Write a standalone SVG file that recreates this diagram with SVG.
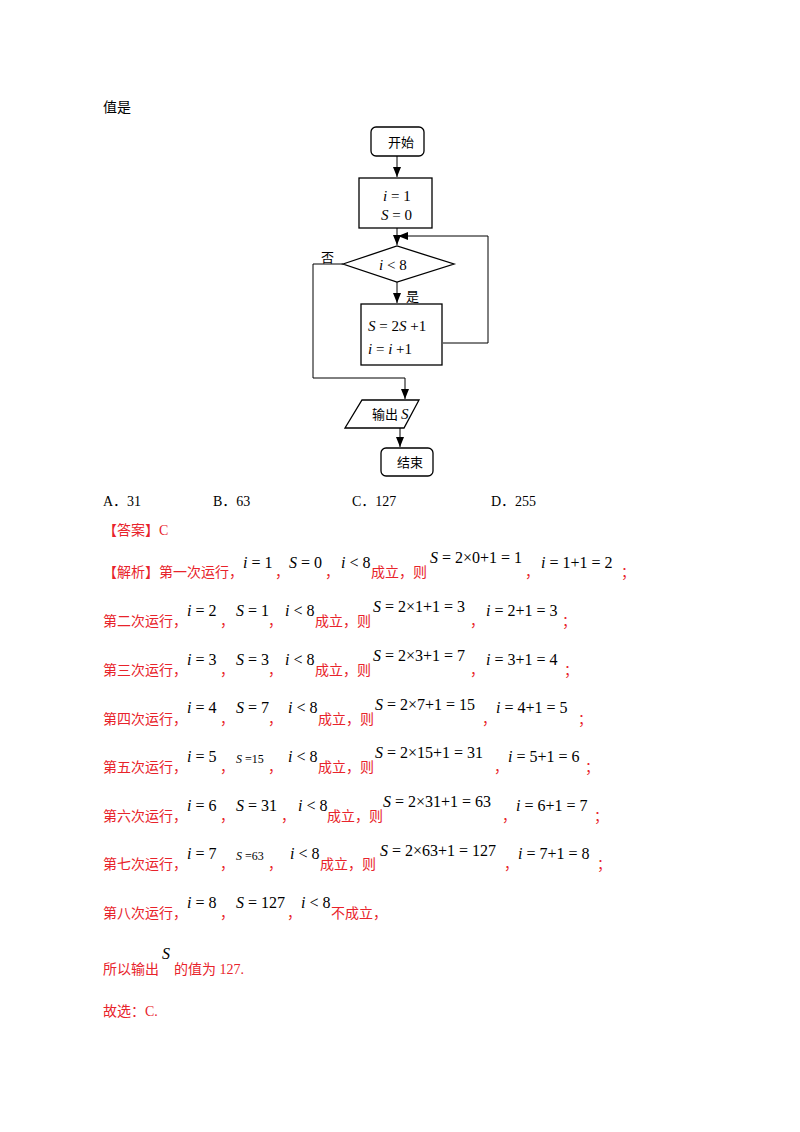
<svg xmlns="http://www.w3.org/2000/svg" width="800" height="1132" viewBox="0 0 800 1132">
<style>
.k{font-family:"Liberation Serif","Noto Sans CJK SC",serif;font-size:14px;fill:#000}
.r{font-family:"Liberation Serif","Noto Sans CJK SC",serif;font-size:14px;fill:#e8232b}
.m{font-family:"Liberation Serif",serif;font-size:16px;fill:#000}
.s{font-family:"Liberation Serif",serif;font-size:15px;fill:#000}
.t{font-family:"Liberation Serif",serif;font-size:12px;fill:#000}
.f{font-family:"Noto Sans CJK SC",sans-serif;font-size:13px;fill:#000}
.b{fill:#fff;stroke:#000;stroke-width:1.3}
.c{fill:none;stroke:#000;stroke-width:1}
tspan.i{font-style:italic}
</style>
<defs><marker id="a" markerWidth="10" markerHeight="8" refX="10" refY="4" orient="auto" markerUnits="userSpaceOnUse"><path d="M0,0 L10,4 L0,8 Z" fill="#000"/></marker></defs>
<text class="k" x="103" y="112">值是</text>
<g id="connectors">
<path class="c" d="M397,156 V177" marker-end="url(#a)"/>
<path class="c" d="M397,228 V245" marker-end="url(#a)"/>
<path class="c" d="M443,343 H488 V236 H398" marker-end="url(#a)"/>
<path class="c" d="M397,282 V303" marker-end="url(#a)"/>
<path class="c" d="M343,264 H313 V378 H405 V399" marker-end="url(#a)"/>
<path class="c" d="M400,428 V447" marker-end="url(#a)"/>
<text class="f" x="321" y="262">否</text>
<text class="f" x="406" y="301">是</text>
</g>
<g id="start"><rect class="b" x="371" y="127" width="53" height="29" rx="5"/><text class="f" x="388" y="147">开始</text></g>
<g id="init"><rect class="b" x="359" y="178" width="73" height="50"/><text class="s" x="383" y="201"><tspan class="i">i</tspan> = 1</text><text class="s" x="381" y="220"><tspan class="i">S</tspan> = 0</text></g>
<g id="cond"><path class="b" d="M343,264 L397,246 L454,264 L397,282 Z"/><text class="s" x="379" y="270"><tspan class="i">i</tspan> &lt; 8</text></g>
<g id="proc"><rect class="b" x="361" y="304" width="81" height="61"/><text class="s" x="368" y="331"><tspan class="i">S</tspan> = 2<tspan class="i">S</tspan> +1</text><text class="s" x="368" y="354"><tspan class="i">i</tspan> = <tspan class="i">i</tspan> +1</text></g>
<g id="out"><path class="b" d="M362,400 H419 L404,428 H345 Z"/><text class="f" x="372" y="419">输出 <tspan class="i" font-family="Liberation Serif" font-size="15">S</tspan></text></g>
<g id="end"><rect class="b" x="381" y="448" width="52" height="28" rx="5"/><text class="f" x="397" y="467">结束</text></g>

<text class="k" x="103" y="506">A．31</text><text class="k" x="213" y="506">B．63</text><text class="k" x="352" y="506">C．127</text><text class="k" x="491" y="506">D．255</text>
<text class="r" x="103" y="535">【答案】C</text>

<text class="r" x="103" y="577">【解析】第一次运行，</text>
<text class="m" x="243" y="568"><tspan class="i">i</tspan> = 1</text><text class="r" x="275" y="577">，</text>
<text class="m" x="289" y="568"><tspan class="i">S</tspan> = 0</text><text class="r" x="325" y="577">，</text>
<text class="m" x="341" y="568"><tspan class="i">i</tspan> &lt; 8</text><text class="r" x="371" y="577">成立，则</text>
<text class="m" x="430" y="563"><tspan class="i">S</tspan> = 2×0+1 = 1</text><text class="r" x="525" y="577">，</text>
<text class="m" x="541" y="568"><tspan class="i">i</tspan> = 1+1 = 2</text><text class="r" x="621" y="577">；</text>

<text class="r" x="103" y="626">第二次运行，</text>
<text class="m" x="187" y="616"><tspan class="i">i</tspan> = 2</text><text class="r" x="220" y="626">，</text>
<text class="m" x="236" y="616"><tspan class="i">S</tspan> = 1</text><text class="r" x="268" y="626">，</text>
<text class="m" x="285" y="616"><tspan class="i">i</tspan> &lt; 8</text><text class="r" x="315" y="626">成立，则</text>
<text class="m" x="373" y="612"><tspan class="i">S</tspan> = 2×1+1 = 3</text><text class="r" x="470" y="626">，</text>
<text class="m" x="486" y="616"><tspan class="i">i</tspan> = 2+1 = 3</text><text class="r" x="562" y="626">；</text>

<text class="r" x="103" y="675">第三次运行，</text>
<text class="m" x="187" y="665"><tspan class="i">i</tspan> = 3</text><text class="r" x="220" y="675">，</text>
<text class="m" x="236" y="665"><tspan class="i">S</tspan> = 3</text><text class="r" x="268" y="675">，</text>
<text class="m" x="285" y="665"><tspan class="i">i</tspan> &lt; 8</text><text class="r" x="315" y="675">成立，则</text>
<text class="m" x="373" y="661"><tspan class="i">S</tspan> = 2×3+1 = 7</text><text class="r" x="470" y="675">，</text>
<text class="m" x="486" y="665"><tspan class="i">i</tspan> = 3+1 = 4</text><text class="r" x="564" y="675">；</text>

<text class="r" x="103" y="724">第四次运行，</text>
<text class="m" x="187" y="713"><tspan class="i">i</tspan> = 4</text><text class="r" x="220" y="724">，</text>
<text class="m" x="236" y="713"><tspan class="i">S</tspan> = 7</text><text class="r" x="268" y="724">，</text>
<text class="m" x="288" y="713"><tspan class="i">i</tspan> &lt; 8</text><text class="r" x="318" y="724">成立，则</text>
<text class="m" x="375" y="710"><tspan class="i">S</tspan> = 2×7+1 = 15</text><text class="r" x="482" y="724">，</text>
<text class="m" x="496" y="713"><tspan class="i">i</tspan> = 4+1 = 5</text><text class="r" x="578" y="724">；</text>

<text class="r" x="103" y="772">第五次运行，</text>
<text class="m" x="187" y="762"><tspan class="i">i</tspan> = 5</text><text class="r" x="220" y="772">，</text>
<text class="t" x="236" y="763"><tspan class="i">S</tspan> =15</text><text class="r" x="268" y="772">，</text>
<text class="m" x="288" y="762"><tspan class="i">i</tspan> &lt; 8</text><text class="r" x="318" y="772">成立，则</text>
<text class="m" x="375" y="758"><tspan class="i">S</tspan> = 2×15+1 = 31</text><text class="r" x="494" y="772">，</text>
<text class="m" x="508" y="762"><tspan class="i">i</tspan> = 5+1 = 6</text><text class="r" x="585" y="772">；</text>

<text class="r" x="103" y="821">第六次运行，</text>
<text class="m" x="187" y="811"><tspan class="i">i</tspan> = 6</text><text class="r" x="220" y="821">，</text>
<text class="m" x="236" y="811"><tspan class="i">S</tspan> = 31</text><text class="r" x="281" y="821">，</text>
<text class="m" x="298" y="811"><tspan class="i">i</tspan> &lt; 8</text><text class="r" x="327" y="821">成立，则</text>
<text class="m" x="383" y="807"><tspan class="i">S</tspan> = 2×31+1 = 63</text><text class="r" x="502" y="821">，</text>
<text class="m" x="516" y="811"><tspan class="i">i</tspan> = 6+1 = 7</text><text class="r" x="594" y="821">；</text>

<text class="r" x="103" y="869">第七次运行，</text>
<text class="m" x="187" y="859"><tspan class="i">i</tspan> = 7</text><text class="r" x="220" y="869">，</text>
<text class="t" x="236" y="860"><tspan class="i">S</tspan> =63</text><text class="r" x="268" y="869">，</text>
<text class="m" x="290" y="859"><tspan class="i">i</tspan> &lt; 8</text><text class="r" x="320" y="869">成立，则</text>
<text class="m" x="380" y="856"><tspan class="i">S</tspan> = 2×63+1 = 127</text><text class="r" x="504" y="869">，</text>
<text class="m" x="518" y="859"><tspan class="i">i</tspan> = 7+1 = 8</text><text class="r" x="597" y="869">；</text>

<text class="r" x="103" y="918">第八次运行，</text>
<text class="m" x="187" y="908"><tspan class="i">i</tspan> = 8</text><text class="r" x="220" y="918">，</text>
<text class="m" x="236" y="908"><tspan class="i">S</tspan> = 127</text><text class="r" x="287" y="918">，</text>
<text class="m" x="301" y="908"><tspan class="i">i</tspan> &lt; 8</text><text class="r" x="331" y="918">不成立，</text>

<text class="r" x="103" y="974">所以输出</text><text class="m" x="162" y="959" font-size="20"><tspan class="i">S</tspan></text><text class="r" x="174" y="974">的值为 127.</text>
<text class="r" x="103" y="1016">故选：C.</text>
</svg>
